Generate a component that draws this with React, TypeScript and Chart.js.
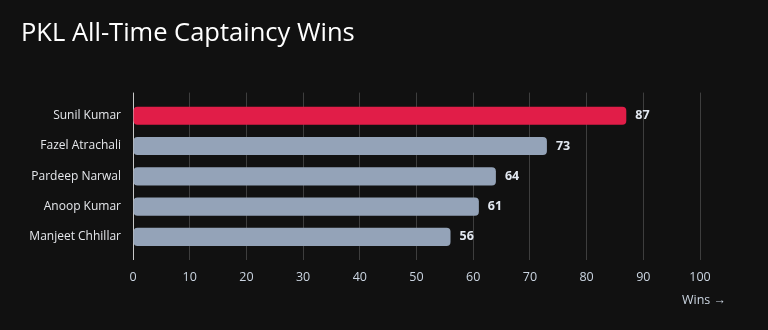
import React, { useEffect, useRef } from "react";
import { Chart, registerables } from "chart.js";

Chart.register(...registerables);

const TITLE = "PKL All-Time Captaincy Wins";
const players = ["Sunil Kumar", "Fazel Atrachali", "Pardeep Narwal", "Anoop Kumar", "Manjeet Chhillar"];
const wins = [87, 73, 64, 61, 56];
const barColors = ["#e11d48", "#94a3b8", "#94a3b8", "#94a3b8", "#94a3b8"];
const xMin = 0;
const xMax = 100;
const xStep = 10;
const xTitle = "Wins →";

const FONT = "'Open Sans', Roboto, sans-serif";
const gridColor = (ctx: any) => (ctx.tick && ctx.tick.value === 0 ? "#c8c8c8" : "#3e3e3e");

const valueLabels = {
  id: "valueLabels",
  afterDatasetsDraw(chart: any) {
    const { ctx } = chart;
    const meta = chart.getDatasetMeta(0);
    ctx.save();
    ctx.font = `bold 12.5px ${FONT}`;
    ctx.fillStyle = "#e2e8f0";
    ctx.textAlign = "left";
    ctx.textBaseline = "middle";
    meta.data.forEach((bar: any, i: number) => {
      ctx.fillText(String(chart.data.datasets[0].data[i]), bar.x + 9, bar.y);
    });
    ctx.restore();
  },
};

const axisTitle = {
  id: "axisTitle",
  afterDraw(chart: any) {
    const { ctx } = chart;
    const x = chart.scales.x;
    ctx.save();
    ctx.font = `12.5px ${FONT}`;
    ctx.fillStyle = "#cbd5e1";
    ctx.textAlign = "right";
    ctx.textBaseline = "middle";
    ctx.fillText(xTitle, x.right + 26, 300);
    ctx.restore();
  },
};

export default function App() {
  const ref = useRef<HTMLCanvasElement>(null);
  useEffect(() => {
    if (!ref.current) return;
    const chart = new Chart(ref.current, {
      type: "bar",
      data: {
        labels: players,
        datasets: [
          {
            data: wins,
            backgroundColor: barColors,
            borderRadius: 4,
            borderSkipped: false,
            categoryPercentage: 0.8,
            barPercentage: 0.75,
          },
        ],
      },
      options: {
        indexAxis: "y",
        animation: false,
        responsive: true,
        maintainAspectRatio: false,
        layout: { padding: { left: 21, right: 68, top: 8, bottom: 35 } },
        plugins: {
          legend: { display: false },
          tooltip: { enabled: false },
          title: {
            display: true,
            text: TITLE,
            align: "start",
            color: "#ffffff",
            font: { family: FONT, size: 25.5, weight: "normal", lineHeight: 1.2 },
            padding: { top: 10, bottom: 44 },
          },
        },
        scales: {
          x: {
            type: "linear",
            position: "bottom",
            min: xMin,
            max: xMax,
            ticks: { stepSize: xStep, color: "#cbd5e1", font: { family: FONT, size: 12.5 }, padding: 10 },
            grid: { color: gridColor, tickColor: gridColor, tickLength: 8, lineWidth: 1 },
            border: { display: false },
          },
          x2: {
            type: "linear",
            position: "top",
            min: xMin,
            max: xMax,
            ticks: { stepSize: xStep, display: false },
            grid: { color: gridColor, tickColor: gridColor, tickLength: 8, drawOnChartArea: false },
            border: { display: false },
          },
          y: {
            ticks: { color: "#e5e7eb", font: { family: FONT, size: 12 }, padding: 12 },
            grid: { display: false, drawTicks: false },
            border: { display: false },
            afterFit: (scale: any) => {
              scale.width = 112;
            },
          },
        },
      },
      plugins: [valueLabels, axisTitle],
    });
    return () => chart.destroy();
  }, []);
  return (
    <div style={{ position: "fixed", left: 0, top: 0, width: 768, height: 330, background: "#111111" }}>
      <canvas ref={ref} />
    </div>
  );
}
